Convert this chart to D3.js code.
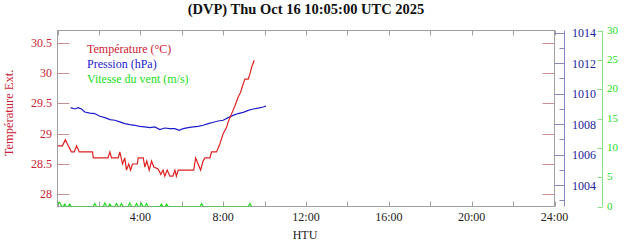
<!DOCTYPE html>
<html><head><meta charset="utf-8">
<script src="https://cdn.jsdelivr.net/npm/d3@7"></script>
<style>
body{margin:0;background:#fff}
svg{display:block}
text{font-family:"Liberation Serif","Times New Roman",serif}
</style>
</head><body><svg id="c" width="624" height="242"></svg>
<script>
const title = "(DVP) Thu Oct 16 10:05:00 UTC 2025";
const tempHours = [0.00,0.24,0.38,0.52,0.67,0.81,0.92,1.05,1.69,1.73,2.44,2.53,2.61,2.93,3.01,3.14,3.25,3.33,3.44,3.53,3.62,3.85,3.90,4.14,4.22,4.31,4.43,4.54,4.65,4.86,4.99,5.10,5.18,5.30,5.43,5.57,5.67,5.74,5.83,6.58,6.67,6.79,6.91,7.03,7.12,7.36,7.44,7.68,7.84,8.00,8.16,8.24,8.41,8.57,8.72,8.84,8.89,8.97,9.05,9.21,9.29,9.37,9.50];
const tempValues = [28.8,28.8,28.9,28.8,28.7,28.7,28.8,28.7,28.7,28.6,28.6,28.7,28.6,28.6,28.7,28.5,28.6,28.4,28.5,28.4,28.5,28.5,28.6,28.6,28.45,28.55,28.4,28.55,28.45,28.42,28.33,28.4,28.3,28.4,28.3,28.3,28.4,28.3,28.4,28.4,28.6,28.5,28.4,28.55,28.6,28.6,28.7,28.7,28.83,29.0,29.1,29.19,29.33,29.46,29.6,29.68,29.74,29.82,29.9,29.9,29.98,30.09,30.21];
const presHours = [0.63,0.84,1.00,1.16,1.32,1.56,1.80,2.04,2.29,2.53,2.77,3.01,3.25,3.49,3.73,3.97,4.21,4.46,4.70,4.94,5.18,5.42,5.67,5.87,6.07,6.31,6.55,6.79,7.03,7.28,7.52,7.76,8.00,8.24,8.48,8.72,8.97,9.21,9.45,9.69,9.93,10.07];
const presValues = [1009.09,1009.0,1009.09,1009.0,1008.8,1008.73,1008.7,1008.52,1008.43,1008.3,1008.26,1008.15,1008.04,1007.97,1007.93,1007.86,1007.82,1007.78,1007.82,1007.65,1007.75,1007.71,1007.71,1007.6,1007.71,1007.78,1007.82,1007.86,1007.93,1008.04,1008.13,1008.21,1008.26,1008.43,1008.58,1008.7,1008.78,1008.91,1009.0,1009.06,1009.13,1009.19];
const windHours = [0,0.11,0.2,0.27,0.35,0.43,0.51,0.59,0.67,1.72,1.80,1.88,2.21,2.29,2.37,2.45,2.53,2.61,2.77,2.85,2.93,3.01,3.09,3.17,3.41,3.49,3.57,3.74,3.82,3.90,3.98,4.06,4.14,4.22,4.30,4.38,4.94,5.02,5.10,5.19,5.27,5.35,6.88,6.96,7.04,9.21,9.29,9.37,9.39];
const windValues = [0.4,0.7,0,0,0.4,0,0,0.4,0,0,0.5,0,0,0.6,0,0,0.4,0,0,0.5,0,0,0.5,0,0,0.6,0,0,0.5,0,0,0.5,0,0,0.5,0,0,0.4,0,0,0.4,0,0,0.5,0,0,0.5,0,0];
const xTickHours = [0,2,4,6,8,10,12,14,16,18,20,22,24];
const xLabelHours = [4,8,12,16,20,24];
const tempTicks = [28,28.5,29,29.5,30,30.5];
const presMajor = [1004,1006,1008,1010,1012,1014];
const presMinor = [1003,1005,1007,1009,1011,1013];
const windTicks = [0,5,10,15,20,25,30];
const legendLabels = ["Température (°C)","Pression (hPa)","Vitesse du vent (m/s)"];
const yTitle = "Température Ext.";
const xTitle = "HTU";

const RED="#dd2222", RED_T="#cc2233", BLUE="#1c1ccc", BLUE_T="#22229a", GREEN="#22dd22";
const L=57.5, R=554.5, T=30.5, B=206.5;
const svg=d3.select("#c");
const x=d3.scaleLinear().domain([0,24]).range([L,R]);
const yT=d3.scaleLinear().domain([27.8,30.7]).range([B,T]);
const yP=d3.scaleLinear().domain([1002.6,1014.15]).range([B,T]);
const yW=d3.scaleLinear().domain([0,30]).range([B,T]);

svg.append("text").attr("x",306).attr("y",13.5).attr("text-anchor","middle")
  .attr("font-weight","bold").attr("font-size",14.5).attr("fill","#111").text(title);

// box
svg.append("rect").attr("x",L).attr("y",T).attr("width",R-L).attr("height",B-T)
  .attr("fill","none").attr("stroke","#a0a0a0").attr("stroke-width",1);

// x ticks top and bottom
xTickHours.forEach(h=>{
  svg.append("line").attr("x1",Math.round(x(h))+0.5).attr("x2",Math.round(x(h))+0.5).attr("y1",T).attr("y2",T+5).attr("stroke","#a0a0a0");
  svg.append("line").attr("x1",Math.round(x(h))+0.5).attr("x2",Math.round(x(h))+0.5).attr("y1",B).attr("y2",B-5).attr("stroke","#a0a0a0");
});
svg.selectAll(".xl").data(xLabelHours).enter().append("text")
  .attr("x",d=>x(d)).attr("y",221).attr("text-anchor","middle").attr("font-size",12).attr("fill","#222").text(d=>d+":00");
svg.append("text").attr("x",305).attr("y",239).attr("text-anchor","middle").attr("font-size",12).attr("fill","#222").text(xTitle);

// temperature axis
tempTicks.forEach(v=>{
  const yy=Math.round(yT(v))+0.5;
  svg.append("line").attr("x1",L).attr("x2",L+12).attr("y1",yy).attr("y2",yy).attr("stroke","#c89090");
  svg.append("line").attr("x1",R).attr("x2",R-12).attr("y1",yy).attr("y2",yy).attr("stroke","#c89090");
});
svg.selectAll(".tl").data(tempTicks).enter().append("text")
  .attr("x",52).attr("y",d=>yT(d)+4).attr("text-anchor","end").attr("font-size",12).attr("fill",RED_T).text(d=>d);
svg.append("text").attr("transform","translate(13,113) rotate(-90)").attr("text-anchor","middle")
  .attr("font-size",12.5).attr("fill",RED_T).text(yTitle);

// pressure axis
const PX=564.5;
svg.append("line").attr("x1",PX).attr("x2",PX).attr("y1",T).attr("y2",B).attr("stroke","#8888c0");
presMajor.forEach(v=>{const yy=Math.round(yP(v))+0.5;
  svg.append("line").attr("x1",R).attr("x2",PX).attr("y1",yy).attr("y2",yy).attr("stroke","#8888c0");});
presMinor.forEach(v=>{const yy=Math.round(yP(v))+0.5;
  svg.append("line").attr("x1",PX-5).attr("x2",PX).attr("y1",yy).attr("y2",yy).attr("stroke","#8888c0");});
svg.selectAll(".pl").data(presMajor).enter().append("text")
  .attr("x",572).attr("y",d=>yP(d)+4.5).attr("font-size",12).attr("fill",BLUE_T).text(d=>d);

// wind axis
const WX=602.5;
svg.append("line").attr("x1",WX).attr("x2",WX).attr("y1",T).attr("y2",B).attr("stroke","#88dd88");
windTicks.forEach(v=>{const yy=Math.round(yW(v))+0.5;
  svg.append("line").attr("x1",WX-5).attr("x2",WX).attr("y1",yy).attr("y2",yy).attr("stroke","#88dd88");});
svg.selectAll(".wl").data(windTicks).enter().append("text")
  .attr("x",607).attr("y",d=>yW(d)+3).attr("font-size",11).attr("fill",GREEN).text(d=>d);

// lines
const clip=svg.append("clipPath").attr("id","pc").append("rect").attr("x",L).attr("y",T).attr("width",R-L).attr("height",B-T);
const g=svg.append("g").attr("clip-path","url(#pc)");
const ln=(ys,hs,vs)=>d3.line().x((d,i)=>x(hs[i])).y((d,i)=>ys(vs[i]))(hs);
g.append("path").attr("d",ln(yW,windHours,windValues)).attr("fill","none").attr("stroke",GREEN).attr("stroke-width",1.2);
g.append("path").attr("d",ln(yP,presHours,presValues)).attr("fill","none").attr("stroke",BLUE).attr("stroke-width",1.2);
g.append("path").attr("d",ln(yT,tempHours,tempValues)).attr("fill","none").attr("stroke",RED).attr("stroke-width",1.2);

// legend
const legColors=[RED_T,BLUE,GREEN];
svg.selectAll(".lg").data(legendLabels).enter().append("text")
  .attr("x",87).attr("y",(d,i)=>53+i*15).attr("font-size",12).attr("fill",(d,i)=>legColors[i]).text(d=>d);
</script></body></html>
